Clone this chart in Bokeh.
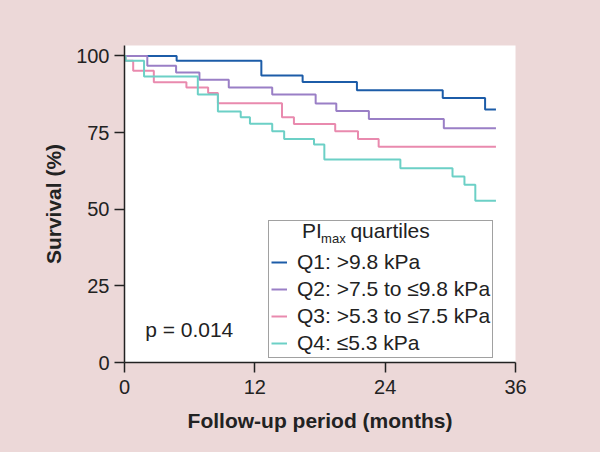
from bokeh.plotting import figure
from bokeh.models import Range1d, FixedTicker, Legend, LegendItem, Label
from bokeh.embed import file_html
from bokeh.resources import INLINE

# ---- data ----
q1_t = [0, 4.8, 12.6, 16.4, 21.4, 29.3, 33.2, 34.2]
q1_s = [100, 98.4, 93.6, 91.5, 88.8, 86.3, 82.5, 82.5]

q2_t = [0, 2.1, 4.75, 6.9, 9.6, 13.6, 17.6, 19.5, 22.5, 29.4, 34.2]
q2_s = [100, 96.8, 94.6, 92.2, 89.7, 87.4, 84.5, 82.0, 79.4, 76.4, 76.4]

q3_t = [0, 0.1, 0.8, 2.7, 5.7, 7.7, 8.6, 14.5, 15.6, 19.4, 21.5, 23.4, 34.2]
q3_s = [100, 98.4, 95.2, 91.4, 89.7, 87.9, 84.6, 80.0, 77.8, 75.4, 72.9, 70.4, 70.4]

q4_t = [0, 0.1, 1.8, 6.75, 8.6, 10.7, 11.55, 13.6, 14.7, 17.45, 18.4, 25.4, 30.2, 31.3, 32.3, 34.2]
q4_s = [100, 98.4, 93.3, 87.4, 81.9, 80.0, 77.9, 75.4, 72.9, 71.1, 66.2, 63.4, 60.7, 58.0, 52.8, 52.8]

series_labels = ["Q1: >9.8 kPa", "Q2: >7.5 to \u22649.8 kPa",
                 "Q3: >5.3 to \u22647.5 kPa", "Q4: \u22645.3 kPa"]
series_colors = ["#1c5ca8", "#9a7fc6", "#e98aae", "#6cd0c6"]

x_ticks = [0, 12, 24, 36]
y_ticks = [0, 25, 50, 75, 100]
p_text = "p = 0.014"

BG = "#ecd8d8"
FONT = "Liberation Sans"

p = figure(frame_width=391, frame_height=317, output_backend="svg",
           toolbar_location=None,
           x_range=Range1d(0, 36), y_range=Range1d(0, 103.4),
           min_border_left=124, min_border_right=85,
           min_border_top=45, min_border_bottom=90)
p.background_fill_color = "white"
p.border_fill_color = BG
p.outline_line_color = None
p.grid.visible = False

renderers = []
for t, s, c in zip([q1_t, q2_t, q3_t, q4_t], [q1_s, q2_s, q3_s, q4_s], series_colors):
    r = p.step(t, s, mode="after", line_color=c, line_width=2)
    renderers.append(r)

for ax in (p.xaxis[0], p.yaxis[0]):
    ax.axis_line_color = "#222222"
    ax.axis_line_width = 1.5
    ax.major_tick_line_color = "#222222"
    ax.major_tick_line_width = 1.5
    ax.major_tick_in = 0
    ax.major_tick_out = 10
    ax.minor_tick_line_color = None
    ax.major_label_text_font = FONT
    ax.major_label_text_font_size = "20px"
    ax.major_label_text_color = "#222222"
    ax.axis_label_text_font = FONT
    ax.axis_label_text_font_size = "21px"
    ax.axis_label_text_font_style = "bold"
    ax.axis_label_text_color = "#222222"

p.xaxis.ticker = FixedTicker(ticks=x_ticks)
p.yaxis.ticker = FixedTicker(ticks=y_ticks)
p.xaxis.axis_label = "Follow-up period (months)"
p.yaxis.axis_label = "Survival (%)"
p.xaxis.major_label_standoff = 7
p.yaxis.major_label_standoff = 5
p.xaxis.axis_label_standoff = 12
p.yaxis.axis_label_standoff = 8

legend = Legend(items=[LegendItem(label=l, renderers=[r]) for l, r in zip(series_labels, renderers)],
                location=(144, 4), title=" ")
legend.label_text_font = FONT
legend.label_text_font_size = "21px"
legend.label_text_color = "#222222"
legend.title_text_font = FONT
legend.title_text_font_size = "16px"
legend.title_standoff = 9
legend.label_height = 20
legend.glyph_height = 20
legend.glyph_width = 16
legend.label_standoff = 10
legend.spacing = 3
legend.padding = 2
legend.margin = 0
legend.border_line_color = "#444444"
legend.border_line_width = 1.5
legend.background_fill_alpha = 0
p.add_layout(legend, "center")

# legend title with subscript
p.add_layout(Label(x=16.35, y=43.2, text="PI", text_font=FONT, text_font_size="21px",
                   text_color="#222222", text_baseline="alphabetic", level="overlay"))
p.add_layout(Label(x=18.1, y=40.6, text="max", text_font=FONT, text_font_size="13px",
                   text_color="#222222", text_baseline="alphabetic", level="overlay"))
p.add_layout(Label(x=20.8, y=43.2, text="quartiles", text_font=FONT, text_font_size="21px",
                   text_color="#222222", text_baseline="alphabetic", level="overlay"))

p.add_layout(Label(x=1.9, y=10.9, text=p_text, text_font=FONT, text_font_size="21px",
                   text_color="#222222", text_baseline="alphabetic", level="overlay"))

html = file_html(p, INLINE)
html = html.replace("<head>", "<head><style>body{background:%s;}</style>" % BG, 1)
open("out.html", "w").write(html)
